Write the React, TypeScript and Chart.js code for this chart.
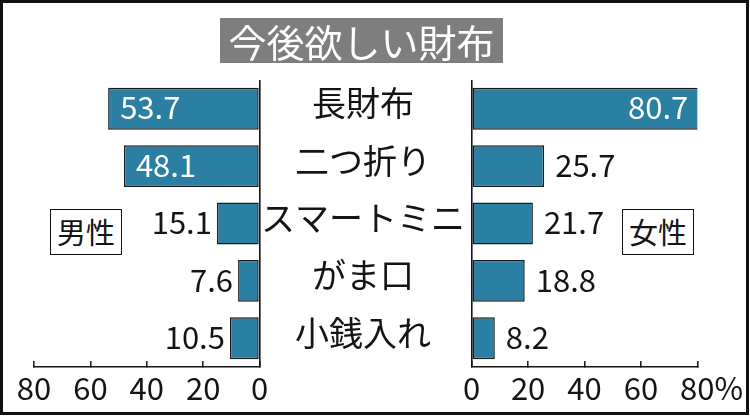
import React, { useEffect, useRef } from "react";
import { Chart, registerables } from "chart.js";

Chart.register(...registerables);

// ---- data ----
const categories = ["長財布", "二つ折り", "スマートミニ", "がま口", "小銭入れ"];
const maleValues = [53.7, 48.1, 15.1, 7.6, 10.5];
const femaleValues = [80.7, 25.7, 21.7, 18.8, 8.2];
const tickValues = [0, 20, 40, 60, 80];
const chartTitle = "今後欲しい財布";
const maleLabel = "男性";
const femaleLabel = "女性";
const unitLabel = "%";

// ---- styles ----
const BAR_COLOR = "#2a7fa2";
const BAR_BORDER = "#1b1b1b";
const INK = "#141414";
const JP_FONT = "'Noto Sans CJK JP', 'Noto Sans', sans-serif";
const NUM_SIZE = 31;
const AXIS_TOP = 80;
const AXIS_BOTTOM = 367;
const CANVAS_H = 418;

const valueLabelPlugin = {
  id: "valueLabels",
  afterDatasetsDraw(chart: any, _args: any, opts: any) {
    const ctx = chart.ctx;
    const meta = chart.getDatasetMeta(0);
    const data = chart.data.datasets[0].data as number[];
    ctx.save();
    ctx.font = `${NUM_SIZE}px ${JP_FONT}`;
    ctx.textBaseline = "middle";
    meta.data.forEach((bar: any, i: number) => {
      const v = data[i];
      const text = v.toFixed(1);
      const inside = v >= opts.insideMin;
      const dir = opts.dir;
      let x: number;
      if (inside) {
        ctx.fillStyle = "#ffffff";
        x = bar.x - dir * opts.inPad;
        ctx.textAlign = dir < 0 ? "left" : "right";
      } else {
        ctx.fillStyle = INK;
        x = bar.x + dir * opts.outPad;
        ctx.textAlign = dir < 0 ? "right" : "left";
      }
      ctx.fillText(text, x, bar.y + opts.dy);
    });
    ctx.restore();
  },
};

const percentPlugin = {
  id: "percentSuffix",
  afterDraw(chart: any, _args: any, opts: any) {
    if (!opts || !opts.show) return;
    const scale = chart.scales.x;
    const ctx = chart.ctx;
    const last = tickValues[tickValues.length - 1];
    const px = scale.getPixelForValue(last);
    ctx.save();
    ctx.font = `${NUM_SIZE}px ${JP_FONT}`;
    const w = ctx.measureText(String(last)).width;
    ctx.fillStyle = INK;
    ctx.textAlign = "left";
    ctx.textBaseline = "middle";
    const y = scale.top + opts.tickLen + opts.padding + NUM_SIZE / 2;
    ctx.fillText(unitLabel, px + w / 2, y);
    ctx.restore();
  },
};

function xScale(reverse: boolean) {
  return {
    type: "linear",
    reverse,
    min: 0,
    max: 80,
    afterBuildTicks: (s: any) => {
      s.ticks = tickValues.map((v) => ({ value: v }));
    },
    afterFit: (s: any) => {
      s.height = CANVAS_H - AXIS_BOTTOM;
    },
    grid: {
      color: (c: any) => (c.tick && c.tick.value === 0 ? INK : "rgba(0,0,0,0)"),
      lineWidth: 1.6,
      tickColor: INK,
      tickWidth: 1.5,
      tickLength: -6,
      drawTicks: true,
      drawOnChartArea: true,
    },
    border: { display: true, color: INK, width: 1.5 },
    ticks: {
      font: { family: JP_FONT, size: NUM_SIZE, lineHeight: 1 },
      color: INK,
      padding: 12,
      maxRotation: 0,
      autoSkip: false,
      callback: (v: any) => String(v),
    },
  };
}

function makeDataset(values: number[]) {
  return {
    data: values,
    backgroundColor: BAR_COLOR,
    borderColor: BAR_BORDER,
    borderWidth: 1.5,
    borderSkipped: false,
    categoryPercentage: 0.73,
    barPercentage: 1,
  };
}

function LeftChart() {
  const ref = useRef<HTMLCanvasElement | null>(null);
  useEffect(() => {
    if (!ref.current) return;
    const chart = new Chart(ref.current, {
      type: "bar",
      data: { labels: categories, datasets: [makeDataset(maleValues) as any] },
      options: {
        indexAxis: "y",
        responsive: false,
        animation: false,
        layout: { padding: { left: 34, right: 15.5, top: AXIS_TOP, bottom: 0 } },
        scales: {
          x: xScale(true) as any,
          y: { type: "category", display: false, offset: true },
        },
        plugins: {
          legend: { display: false },
          tooltip: { enabled: false },
          valueLabels: { dir: -1, insideMin: 30, inPad: 12, outPad: 5, dy: -1 },
        } as any,
      },
      plugins: [valueLabelPlugin as any],
    });
    return () => chart.destroy();
  }, []);
  return (
    <canvas
      ref={ref}
      width={275}
      height={CANVAS_H}
      style={{ position: "absolute", left: 0, top: 0, width: 275, height: CANVAS_H }}
    />
  );
}

function RightChart() {
  const ref = useRef<HTMLCanvasElement | null>(null);
  useEffect(() => {
    if (!ref.current) return;
    const chart = new Chart(ref.current, {
      type: "bar",
      data: { labels: categories, datasets: [makeDataset(femaleValues) as any] },
      options: {
        indexAxis: "y",
        responsive: false,
        animation: false,
        layout: { padding: { left: 0, right: 52.7, top: AXIS_TOP, bottom: 0 } },
        scales: {
          x: xScale(false) as any,
          y: {
            type: "category",
            position: "left",
            offset: true,
            afterFit: (s: any) => {
              s.width = 209.7;
            },
            grid: { display: false, drawTicks: false, tickLength: 0 },
            border: { display: false },
            ticks: {
              font: { family: JP_FONT, size: 34, lineHeight: 1.2 },
              color: INK,
              crossAlign: "center",
              padding: 6.7,
              labelOffset: -5.5,
              autoSkip: false,
            },
          },
        },
        plugins: {
          legend: { display: false },
          tooltip: { enabled: false },
          valueLabels: { dir: 1, insideMin: 30, inPad: 11, outPad: 11, dy: -1 },
          percentSuffix: { show: true, tickLen: -6, padding: 12 },
        } as any,
      },
      plugins: [valueLabelPlugin as any, percentPlugin as any],
    });
    return () => chart.destroy();
  }, []);
  return (
    <canvas
      ref={ref}
      width={488}
      height={CANVAS_H}
      style={{ position: "absolute", left: 262, top: 0, width: 488, height: CANVAS_H }}
    />
  );
}

const boxStyle: React.CSSProperties = {
  position: "absolute",
  top: 209,
  width: 72,
  height: 46,
  boxSizing: "border-box",
  border: "1.5px solid " + INK,
  background: "#ffffff",
  color: INK,
  fontFamily: JP_FONT,
  fontSize: 29,
  lineHeight: "43px",
  textAlign: "center",
};

export default function App() {
  return (
    <div
      style={{
        position: "absolute",
        left: 0,
        top: 0,
        width: 750,
        height: 418,
        background: "#ffffff",
        overflow: "hidden",
      }}
    >
      <div
        style={{
          position: "absolute",
          left: 0,
          top: 0,
          width: 749,
          height: 415,
          boxSizing: "border-box",
          border: "3px solid #111",
        }}
      />
      <LeftChart />
      <RightChart />
      <div
        style={{
          position: "absolute",
          left: 220,
          top: 18,
          width: 283,
          height: 45,
          background: "#7e7e7e",
          color: "#ffffff",
          fontFamily: JP_FONT,
          fontSize: 38,
          lineHeight: "45px",
          textAlign: "center",
        }}
      >
        {chartTitle}
      </div>
      <div style={{ ...boxStyle, left: 50 }}>{maleLabel}</div>
      <div style={{ ...boxStyle, left: 622 }}>{femaleLabel}</div>
    </div>
  );
}
